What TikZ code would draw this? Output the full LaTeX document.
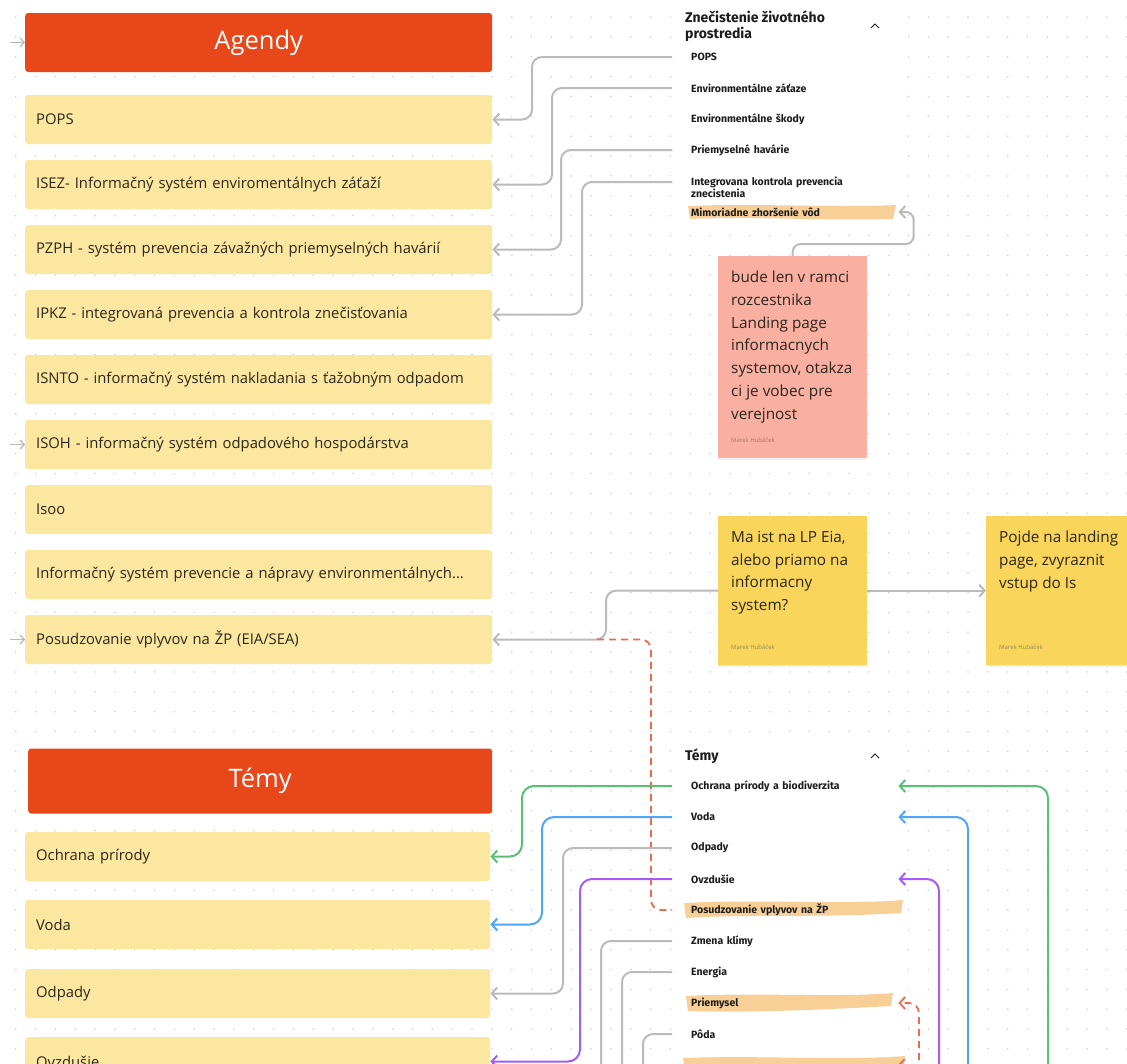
\documentclass[tikz,border=0pt]{standalone}
\usepackage{fontspec}
\setmainfont{Open Sans}
\newfontfamily\listfont{Fira Sans}
\usetikzlibrary{positioning,arrows.meta,shadows}

\definecolor{headred}{HTML}{E8471A}
\definecolor{agyellow}{HTML}{FCE7A0}
\definecolor{notepink}{HTML}{F9AFA1}
\definecolor{noteyellow}{HTML}{F9D65B}
\definecolor{hilite}{HTML}{F9CF98}
\definecolor{linegray}{HTML}{BBBBBB}
\definecolor{dotgray}{HTML}{CFCFCF}
\definecolor{textdark}{HTML}{2B2619}
\definecolor{listtext}{HTML}{1C1C1C}
\definecolor{pinkauthor}{HTML}{A8776B}
\definecolor{yelauthor}{HTML}{9C8A48}
\definecolor{lgreen}{HTML}{5CBF76}
\definecolor{lblue}{HTML}{4FA6F6}
\definecolor{lpurple}{HTML}{A45CF5}
\definecolor{lred}{HTML}{EE6A4C}

\tikzset{
  header/.style={fill=headred, rounded corners=3pt, anchor=west, inner sep=0pt,
    minimum height=59pt, text=white, font=\fontsize{25.5}{30}\selectfont},
  agbox/.style={fill=agyellow, rounded corners=3pt, anchor=west, inner xsep=11pt,
    inner ysep=0pt, minimum height=49pt, text width=445pt, align=left,
    text=textdark, font=\fontsize{14.8}{18}\selectfont},
  listitem/.style={anchor=west, inner xsep=19pt, inner ysep=0pt, text width=188pt,
    align=left, text=listtext, font=\listfont\bfseries\fontsize{10.5}{12}\selectfont},
  listhead/.style={anchor=west, inner sep=0pt, align=left, text=listtext,
    font=\listfont\bfseries\fontsize{14}{16}\selectfont},
  note/.style={anchor=north west, inner sep=0pt, minimum width=149pt,
    drop shadow={opacity=0.12, shadow xshift=0pt, shadow yshift=-2pt}},
  notetext/.style={anchor=north west, inner sep=0pt, align=left, text=textdark,
    font=\fontsize{15.3}{22.7}\selectfont},
  author/.style={anchor=west, inner sep=0pt, font=\fontsize{6}{7}\selectfont},
  conn/.style={draw=linegray, line width=2pt, rounded corners=10pt,
    -{Straight Barb[length=5.5pt,width=12pt]}},
  connc/.style={draw=#1, line width=2pt, rounded corners=12pt,
    -{Straight Barb[length=5.5pt,width=12pt]}},
  reddash/.style={draw=lred, line width=1.8pt, dash pattern=on 7pt off 5pt,
    rounded corners=10pt},
  sidearr/.style={draw=linegray, line width=1.3pt, -{Straight Barb[length=4pt,width=9pt]}},
  caret/.style={draw=listtext, line width=1pt}
}

\begin{document}
\begin{tikzpicture}[x=1pt,y=-1pt]
\useasboundingbox (0,0) rectangle (1127,1063);
\clip (0,0) rectangle (1127,1063);
\fill[white] (0,0) rectangle (1127,1063);
\foreach \i in {0,...,56}
  \foreach \j in {0,...,53}
    \fill[dotgray] (15.7+\i*19.84,17.2+\j*19.84) circle (0.85);

% list panels
\fill[white] (675,3) rectangle (905,226);
\fill[white] (675,742) rectangle (905,1063);

% highlights
\fill[hilite] (688,206) .. controls (760,203) and (830,208) .. (896,205) -- (893,219)
  .. controls (820,221) and (750,216) .. (690,219) -- cycle;
\fill[hilite] (684,903) .. controls (760,899) and (840,905) .. (903,900) -- (901,913)
  .. controls (820,918) and (740,914) .. (686,918) -- cycle;
\fill[hilite] (686,996) .. controls (760,992) and (830,998) .. (893,993) -- (891,1006)
  .. controls (820,1010) and (740,1013) .. (688,1011) -- cycle;
\fill[hilite] (683,1058) .. controls (760,1055) and (840,1061) .. (905,1056) -- (903,1070)
  -- (685,1072) -- cycle;

% Agendy
\node[header, minimum width=467pt] (agendy) at (25,42.5) {Agendy};
\node[agbox] (bpops) at (25,119.5) {POPS};
\node[agbox] (bisez) at (25,184.5) {ISEZ- Informačný systém enviromentálnych záťaží};
\node[agbox] (bpzph) at (25,249.5) {PZPH - systém prevencia závažných priemyselných havárií};
\node[agbox] (bipkz) at (25,314.5) {IPKZ - integrovaná prevencia a kontrola znečisťovania};
\node[agbox] (bisnto) at (25,379.5) {ISNTO - informačný systém nakladania s ťažobným odpadom};
\node[agbox] (bisoh) at (25,444.5) {ISOH - informačný systém odpadového hospodárstva};
\node[agbox] (bisoo) at (25,509.5) {Isoo};
\node[agbox] (bispn) at (25,574.5) {Informačný systém prevencie a nápravy environmentálnych...};
\node[agbox] (bposud) at (25,639.5) {Posudzovanie vplyvov na ŽP (EIA/SEA)};

% Temy
\node[header, minimum width=464pt, minimum height=65pt] (temy) at (28,781) {Témy};
\node[agbox, text width=443pt] (bochr) at (25,856.5) {Ochrana prírody};
\node[agbox, text width=443pt] (bvoda) at (25,924.5) {Voda};
\node[agbox, text width=443pt] (bodp) at (25,993.5) {Odpady};
\node[agbox, text width=443pt] (bovz) at (25,1061.5) {Ovzdušie};

% zoznam Znecistenie
\node[listhead] (lhead) at (685,26) {Znečistenie životného\\prostredia};
\draw[caret] (871,28) -- (875,24) -- (879,28);
\node[listitem] (lpops) at (672,57) {POPS};
\node[listitem] (lzat) at (672,88) {Environmentálne záťaze};
\node[listitem] (lskod) at (672,119) {Environmentálne škody};
\node[listitem] (lhav) at (672,150) {Priemyselné havárie};
\node[listitem] (lint) at (672,187) {Integrovana kontrola prevencia\\znecistenia};
\node[listitem] (lmim) at (672,212) {Mimoriadne zhoršenie vôd};

% zoznam Temy
\node[listhead] (thead) at (685,756) {Témy};
\draw[caret] (871,758) -- (875,754) -- (879,758);
\node[listitem] (tochr) at (672,786) {Ochrana prírody a biodiverzita};
\node[listitem] (tvoda) at (672,817) {Voda};
\node[listitem] (todp) at (672,848) {Odpady};
\node[listitem] (tovz) at (672,879) {Ovzdušie};
\node[listitem] (tposud) at (672,910) {Posudzovanie vplyvov na ŽP};
\node[listitem] (tzmen) at (672,941) {Zmena klímy};
\node[listitem] (tener) at (672,972) {Energia};
\node[listitem] (tprie) at (672,1003) {Priemysel};
\node[listitem] (tpoda) at (672,1034) {Pôda};

% poznamky
\node[note, fill=notepink, minimum height=202pt] (pink) at (718,256) {};
\node[notetext] (pinktxt) at ([xshift=13pt,yshift=-15pt]pink.north west)
  {bude len v ramci\\rozcestnika\\Landing page\\informacnych\\systemov, otakza\\ci je vobec pre\\verejnost};
\node[author, text=pinkauthor] (pinkauth) at ([xshift=13pt,yshift=18pt]pink.south west) {Marek Hubáček};

\node[note, fill=noteyellow, minimum height=149pt] (ynote) at (718,516) {};
\node[notetext] (ynotetxt) at ([xshift=13pt,yshift=-15pt]ynote.north west)
  {Ma ist na LP Eia,\\alebo priamo na\\informacny\\system?};
\node[author, text=yelauthor] (ynoteauth) at ([xshift=13pt,yshift=18pt]ynote.south west) {Marek Hubáček};

\node[note, fill=noteyellow, minimum height=149pt] (lpnote) at (986,516) {};
\node[notetext] (lpnotetxt) at ([xshift=13pt,yshift=-15pt]lpnote.north west)
  {Pojde na landing\\page, zvyraznit\\vstup do Is};
\node[author, text=yelauthor] (lpnoteauth) at ([xshift=13pt,yshift=18pt]lpnote.south west) {Marek Hubáček};

% sipky zlava
\draw[sidearr] ([xshift=-15pt]agendy.west) -- (agendy.west);
\draw[sidearr] ([xshift=-15pt]bisoh.west) -- (bisoh.west);
\draw[sidearr] ([xshift=-15pt]bposud.west) -- (bposud.west);

% spojenia Znecistenie -> Agendy
\draw[conn] (lpops.west) -- ++(-140,0) |- (bpops.east);
\draw[conn] (lzat.west) -- ++(-120,0) |- (bisez.east);
\draw[conn] (lhav.west) -- ++(-111,0) |- (bpzph.east);
\draw[conn] ([yshift=5pt]lint.west) -- ++(-90,0) |- (bipkz.east);
\draw[conn, rounded corners=8pt] (pink.north) -- ++(0,-12) -- ++(121,0) |- (lmim.east);

% poznamky
\draw[conn] (ynote.west) -- ++(-112,0) |- (bposud.east);
\draw[conn] (ynote.east) -- (lpnote.west);
\coordinate (dstart) at (597,639.5);
\draw[reddash] (dstart) -| ([xshift=-21pt]tposud.west) -- (tposud.west);

% spojenia Temy -> Temy
\draw[connc=lgreen] (tochr.west) -- ++(-150,0) |- (bochr.east);
\draw[connc=lblue] (tvoda.west) -- ++(-130,0) |- (bvoda.east);
\draw[conn] (todp.west) -- ++(-109,0) |- (bodp.east);
\draw[connc=lpurple] (tovz.west) -- ++(-92,0) |- (bovz.east);
\draw[conn] (tzmen.west) -- ++(-71,0) -- ++(0,200);
\draw[conn] (tener.west) -- ++(-50,0) -- ++(0,200);
\draw[conn] (tpoda.west) -- ++(-29,0) -- ++(0,200);

% spojenia sprava
\coordinate (gbot) at (1048,1120);
\coordinate (bbot) at (968,1120);
\coordinate (pbot) at (939,1120);
\coordinate (rbot) at (919,1120);
\coordinate (rnext) at (898,1065);
\draw[connc=lgreen] (gbot) |- (tochr.east);
\draw[connc=lblue] (bbot) |- (tvoda.east);
\draw[connc=lpurple] (pbot) |- (tovz.east);
\draw[reddash, -{Straight Barb[length=5.5pt,width=12pt]}] (rbot) |- (tprie.east);
\draw[reddash, -{Straight Barb[length=5.5pt,width=12pt]}] (rbot) |- (rnext);
\end{tikzpicture}
\end{document}
